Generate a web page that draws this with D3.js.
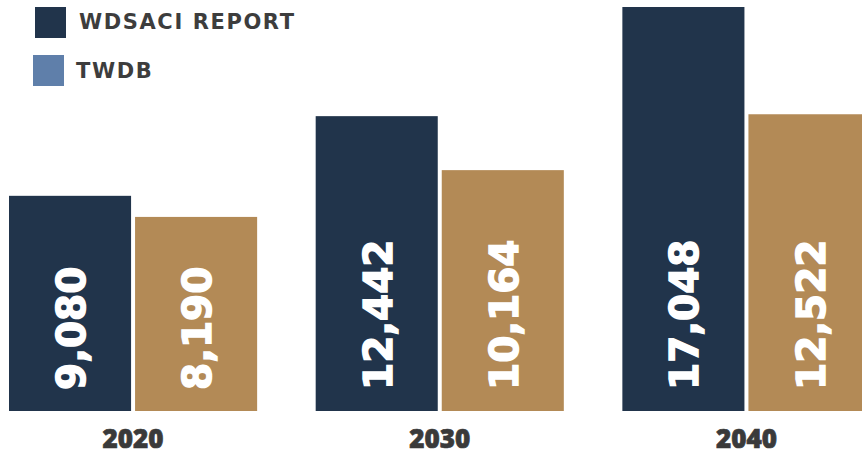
<!DOCTYPE html>
<html>
<head>
<meta charset="utf-8">
<script src="https://cdn.jsdelivr.net/npm/d3@7"></script>
<style>
  html, body { margin: 0; padding: 0; background: #ffffff; }
  svg { display: block; }
</style>
</head>
<body>
<svg id="chart" width="862" height="454"></svg>
<script>
// Projected values per year for the two sources
const years = ["2020", "2030", "2040"];
const seriesNames = ["WDSACI REPORT", "TWDB"];
const wdsaciValues = [9080, 12442, 17048];
const twdbValues = [8190, 10164, 12522];

const barColors = { "WDSACI REPORT": "#21344b", "TWDB": "#b38a56" };
const legendColors = { "WDSACI REPORT": "#21344b", "TWDB": "#5f7faa" };

const baselineY = 411, plotTopY = 7;

const svg = d3.select("#chart");

const rows = years.map((yr, i) => ({
  year: yr,
  values: [
    { key: seriesNames[0], value: wdsaciValues[i] },
    { key: seriesNames[1], value: twdbValues[i] }
  ]
}));

const x0 = d3.scaleBand()
  .domain(years)
  .range([9, 870.5])
  .paddingInner(0.1909)
  .paddingOuter(0);

const x1 = d3.scaleBand()
  .domain(seriesNames)
  .range([0, x0.bandwidth()])
  .paddingInner(0.0317)
  .paddingOuter(0);

const yScale = d3.scaleLinear()
  .domain([0, d3.max(wdsaciValues.concat(twdbValues))])
  .range([baselineY, plotTopY]);

const fmt = d3.format(",");

const groups = svg.append("g")
  .selectAll("g")
  .data(rows)
  .join("g")
  .attr("transform", d => `translate(${x0(d.year)},0)`);

groups.selectAll("rect")
  .data(d => d.values)
  .join("rect")
  .attr("x", d => x1(d.key))
  .attr("y", d => yScale(d.value))
  .attr("width", x1.bandwidth())
  .attr("height", d => baselineY - yScale(d.value))
  .attr("fill", d => barColors[d.key]);

// Rotated value labels inside each bar
groups.selectAll("text.value")
  .data(d => d.values)
  .join("text")
  .attr("class", "value")
  .attr("transform", d => `translate(${x1(d.key) + x1.bandwidth() / 2 + 1},${baselineY - 21}) rotate(-90)`)
  .attr("dy", "0.36em")
  .attr("text-anchor", "start")
  .attr("fill", "#ffffff")
  .attr("stroke", "#ffffff")
  .attr("stroke-width", 1.4)
  .style("font-family", "'DejaVu Sans', sans-serif")
  .style("font-weight", 700)
  .style("font-size", "39px")
  .text(d => fmt(d.value));

// Year labels under each group
const xAxis = d3.axisBottom(x0).tickSize(0).tickPadding(0);
const axisG = svg.append("g")
  .attr("transform", `translate(0,${baselineY})`)
  .call(xAxis);
axisG.select(".domain").remove();
axisG.selectAll("text")
  .attr("y", 36.5)
  .attr("dy", 0)
  .attr("fill", "#3a3a3a")
  .attr("stroke", "#3a3a3a")
  .attr("stroke-width", 0.7)
  .style("font-family", "'Open Sans', sans-serif")
  .style("font-weight", 800)
  .style("font-size", "26px");

// Legend
const legendItems = [
  { key: seriesNames[0], sx: 35, sy: 7, tx: 79, ty: 29 },
  { key: seriesNames[1], sx: 33, sy: 55, tx: 76, ty: 78 }
];
const legend = svg.append("g");
legend.selectAll("rect")
  .data(legendItems)
  .join("rect")
  .attr("x", d => d.sx)
  .attr("y", d => d.sy)
  .attr("width", 31)
  .attr("height", 31)
  .attr("fill", d => legendColors[d.key]);
legend.selectAll("text")
  .data(legendItems)
  .join("text")
  .attr("x", d => d.tx)
  .attr("y", d => d.ty)
  .attr("fill", "#3d3d3d")
  .style("font-family", "'DejaVu Sans', sans-serif")
  .style("font-weight", 700)
  .style("font-size", "21px")
  .style("letter-spacing", "1.6px")
  .text(d => d.key);
</script>
</body>
</html>
